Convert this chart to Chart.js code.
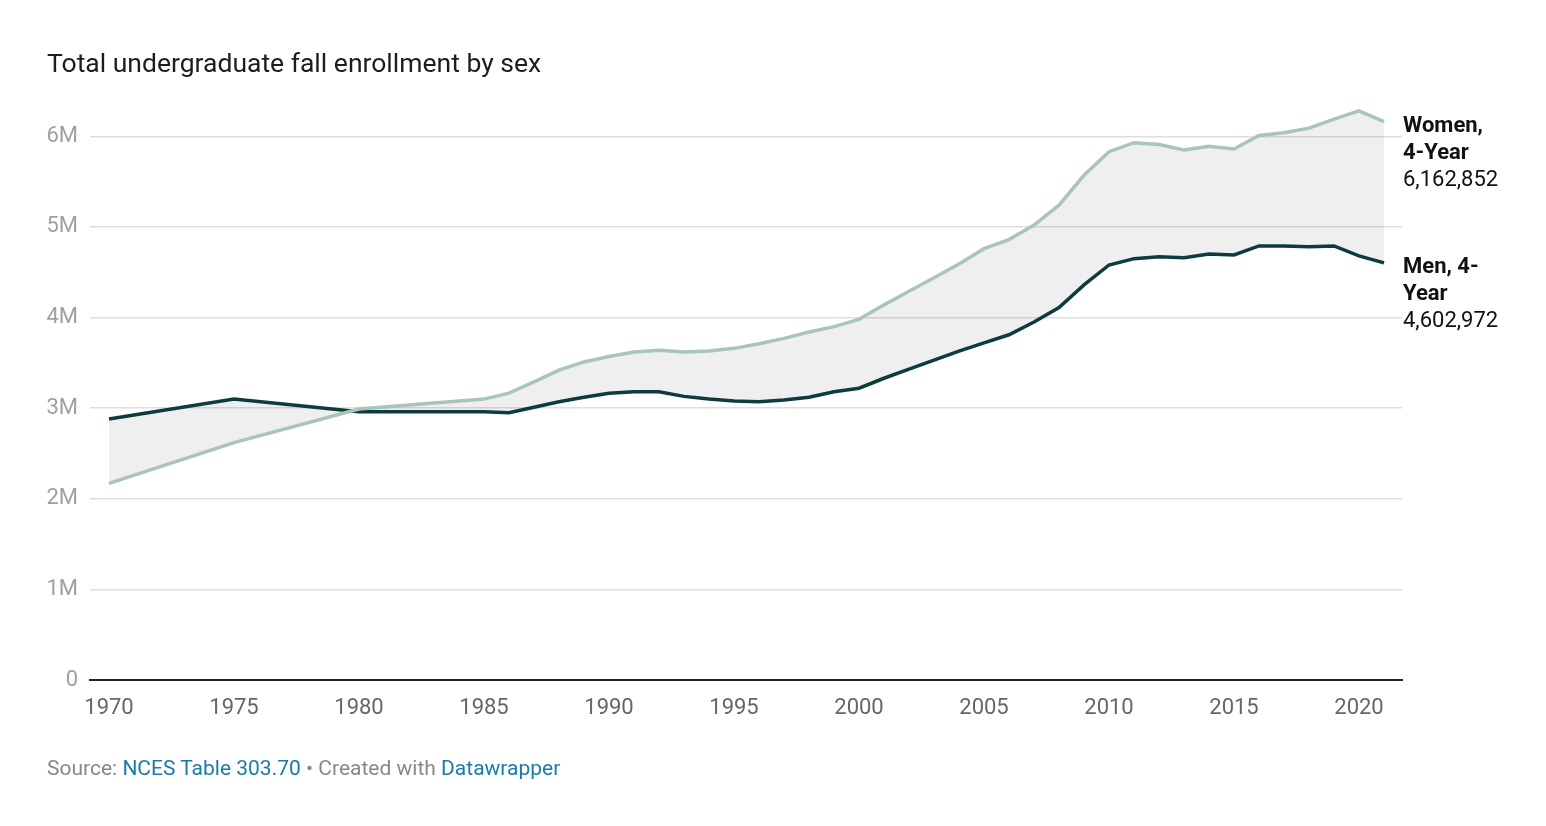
<!DOCTYPE html>
<html>
<head>
<meta charset="utf-8">
<script src="https://cdn.jsdelivr.net/npm/chart.js@4"></script>
<style>
  html, body { margin: 0; padding: 0; background: #fff; }
  body { width: 1546px; height: 826px; position: relative; overflow: hidden; font-family: Roboto, sans-serif; }
  #wrap { position: absolute; left: 0; top: 0; width: 1546px; height: 826px; }
  #title { position: absolute; left: 47px; top: 47px; font-size: 26.5px; color: #1d1d1d; white-space: nowrap; }
  #foot { position: absolute; left: 47px; top: 756px; font-size: 21px; color: #888; white-space: nowrap; }
  #foot a { color: #1a7aa8; text-decoration: none; }
</style>
</head>
<body>
<div id="wrap"><canvas id="myChart"></canvas></div>
<div id="title">Total undergraduate fall enrollment by sex</div>
<div id="foot">Source: <a>NCES Table 303.70</a> • Created with <a>Datawrapper</a></div>
<script>
// years on the x-axis (five-year steps early on, then annual)
var years = [1970,1975,1980,1985,1986,1987,1988,1989,1990,1991,1992,1993,1994,1995,1996,1997,1998,1999,2000,
  2001,2002,2003,2004,2005,2006,2007,2008,2009,2010,2011,2012,2013,2014,2015,2016,2017,2018,2019,2020,2021];
// enrollment, millions
var women = [2.17,2.62,2.99,3.10,3.165,3.29,3.42,3.51,3.57,3.62,3.64,3.62,3.63,3.66,3.71,3.77,3.84,3.90,3.98,
  4.14,4.29,4.44,4.59,4.76,4.86,5.02,5.24,5.57,5.83,5.93,5.91,5.85,5.89,5.86,6.01,6.04,6.09,6.19,6.28,6.162852];
var men = [2.88,3.10,2.96,2.96,2.95,3.01,3.07,3.12,3.165,3.18,3.18,3.13,3.10,3.08,3.07,3.09,3.12,3.18,3.22,
  3.33,3.43,3.53,3.63,3.72,3.81,3.95,4.11,4.36,4.58,4.65,4.67,4.66,4.70,4.69,4.79,4.79,4.78,4.79,4.68,4.602972];
var xTicks = [1970,1975,1980,1985,1990,1995,2000,2005,2010,2015,2020];
var yTicks = [0,1,2,3,4,5,6];
var endLabels = [
  ['Women,', '4-Year', '6,162,852'],
  ['Men, 4-', 'Year', '4,602,972']
];

function pts(arr) {
  return years.map(function (y, i) { return { x: y, y: arr[i] * 1e6 }; });
}

var endLabelPlugin = {
  id: 'endLabels',
  afterDraw: function (chart) {
    var ctx = chart.ctx;
    ctx.save();
    ctx.textAlign = 'left';
    ctx.textBaseline = 'middle';
    ctx.fillStyle = '#111';
    endLabels.forEach(function (lines, di) {
      var meta = chart.getDatasetMeta(di);
      var last = meta.data[meta.data.length - 1];
      var y0 = last.y + 5;
      lines.forEach(function (t, li) {
        ctx.font = (li < 2 ? 'bold ' : '') + '22px Roboto';
        ctx.fillText(t, 1403, y0 + li * 27);
      });
    });
    ctx.restore();
  }
};

var ctx = document.getElementById('myChart');
var myChart = new Chart(ctx, {
  type: 'line',
  data: {
    datasets: [
      {
        data: pts(women),
        label: 'Women, 4-Year',
        borderColor: '#a8c5b8',
        borderWidth: 3.5,
        fill: 1,
        backgroundColor: 'rgba(0,0,0,0.062)',
        pointRadius: 0,
        tension: 0
      },
      {
        data: pts(men),
        label: 'Men, 4-Year',
        borderColor: '#0c3c3e',
        borderWidth: 3.5,
        fill: false,
        pointRadius: 0,
        tension: 0
      }
    ]
  },
  options: {
    responsive: true,
    maintainAspectRatio: false,
    animation: false,
    layout: { padding: { top: 91, right: 144, left: 0, bottom: 0 } },
    plugins: {
      legend: { display: false },
      tooltip: { enabled: false },
      filler: { drawTime: 'beforeDatasetsDraw' }
    },
    scales: {
      x: {
        type: 'linear',
        min: 1969.24,
        max: 2021.72,
        afterBuildTicks: function (s) { s.ticks = xTicks.map(function (v) { return { value: v }; }); },
        afterFit: function (s) { s.height = 146; },
        grid: { display: false, drawTicks: false },
        border: { display: true, color: '#222', width: 2 },
        ticks: {
          padding: 15,
          color: '#666',
          font: { family: 'Roboto', size: 22 },
          maxRotation: 0,
          callback: function (v) { return String(v); }
        }
      },
      y: {
        min: 0,
        max: 6.5e6,
        afterBuildTicks: function (s) { s.ticks = yTicks.map(function (v) { return { value: v * 1e6 }; }); },
        afterFit: function (s) { s.width = 90; },
        grid: { color: '#dedede', lineWidth: 1.5, drawTicks: false },
        border: { display: false },
        ticks: {
          padding: 12,
          color: '#a0a0a0',
          font: { family: 'Roboto', size: 22 },
          callback: function (v) { return v === 0 ? '0' : (v / 1e6) + 'M'; }
        }
      }
    }
  },
  plugins: [endLabelPlugin]
});
</script>
</body>
</html>
